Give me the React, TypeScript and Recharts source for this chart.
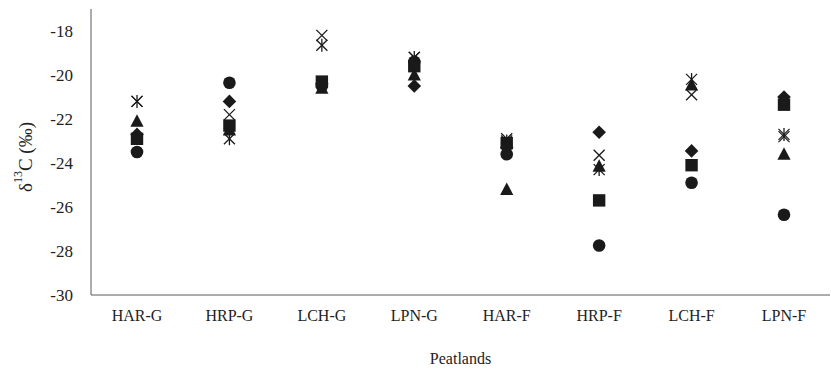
import React from "react";
import { ComposedChart, Scatter, XAxis, YAxis } from "recharts";

const categories = ["HAR-G", "HRP-G", "LCH-G", "LPN-G", "HAR-F", "HRP-F", "LCH-F", "LPN-F"];
const circleVals = [-23.5, -20.35, -20.5, -19.4, -23.6, -27.75, -24.9, -26.35];
const diamondVals = [-22.7, -21.2, -20.4, -20.5, -23.3, -22.6, -23.45, -21.0];
const squareVals = [-22.9, -22.3, -20.3, -19.6, -23.1, -25.7, -24.1, -21.35];
const triangleVals = [-22.1, -22.5, -20.6, -20.0, -25.2, -24.15, -20.45, -23.6];
const xVals = [-21.2, -21.8, -18.2, -19.2, -22.9, -23.65, -20.9, -22.8];
const starVals = [-21.2, -22.9, -18.65, -19.2, -23.0, -24.3, -20.2, -22.7];
const yTicks = [-30, -28, -26, -24, -22, -20, -18];

const data = categories.map((name, i) => ({
  name,
  diamond: diamondVals[i],
  square: squareVals[i],
  triangle: triangleVals[i],
  x: xVals[i],
  star: starVals[i],
  circle: circleVals[i],
}));

const INK = "#1a1a1a";
const FONT = "'Liberation Serif', 'Times New Roman', serif";

const makeShape = (kind: string) => (props: any) => {
  const { cx, cy } = props;
  if (cx == null || cy == null) return <g />;
  switch (kind) {
    case "circle":
      return <circle cx={cx} cy={cy} r={6.3} fill={INK} />;
    case "square":
      return <rect x={cx - 6.2} y={cy - 6.2} width={12.4} height={12.4} fill={INK} />;
    case "diamond":
      return (
        <polygon
          points={`${cx},${cy - 6.8} ${cx + 6.8},${cy} ${cx},${cy + 6.8} ${cx - 6.8},${cy}`}
          fill={INK}
        />
      );
    case "triangle":
      return (
        <polygon
          points={`${cx},${cy - 7} ${cx + 6.6},${cy + 5.5} ${cx - 6.6},${cy + 5.5}`}
          fill={INK}
        />
      );
    case "x":
      return (
        <g stroke={INK} strokeWidth={1.3}>
          <line x1={cx - 5.5} y1={cy - 5.5} x2={cx + 5.5} y2={cy + 5.5} />
          <line x1={cx - 5.5} y1={cy + 5.5} x2={cx + 5.5} y2={cy - 5.5} />
        </g>
      );
    case "star":
    default:
      return (
        <g stroke={INK} strokeWidth={1.3}>
          <line x1={cx - 5.5} y1={cy - 5.5} x2={cx + 5.5} y2={cy + 5.5} />
          <line x1={cx - 5.5} y1={cy + 5.5} x2={cx + 5.5} y2={cy - 5.5} />
          <line x1={cx} y1={cy - 6.5} x2={cx} y2={cy + 6.5} />
        </g>
      );
  }
};

const XTick = (props: any) => {
  const { x, y, payload } = props;
  return (
    <text x={x} y={y} dy={16} textAnchor="middle" fontFamily={FONT} fontSize={16} fill="#222">
      {payload.value}
    </text>
  );
};

const YTick = (props: any) => {
  const { x, y, payload } = props;
  return (
    <text x={x} y={y} dy={6} textAnchor="end" fontFamily={FONT} fontSize={17} fill="#222">
      {payload.value}
    </text>
  );
};

const YLabel = (props: any) => {
  const vb = props.viewBox || { x: 0, y: 9, width: 91, height: 286 };
  const cx = 25;
  const cy = vb.y + vb.height / 2 + 5;
  return (
    <text
      transform={`translate(${cx},${cy}) rotate(-90)`}
      textAnchor="middle"
      dominantBaseline="central"
      fontFamily={FONT}
      fontSize={19}
      fill="#222"
    >
      <tspan>δ</tspan>
      <tspan dy={-7} fontSize={12}>13</tspan>
      <tspan dy={7}>C (‰)</tspan>
    </text>
  );
};

const XLabel = (props: any) => {
  const vb = props.viewBox || { x: 91, y: 295, width: 739, height: 75 };
  return (
    <text
      x={vb.x + vb.width / 2}
      y={358}
      textAnchor="middle"
      dominantBaseline="central"
      fontFamily={FONT}
      fontSize={16}
      fill="#222"
    >
      Peatlands
    </text>
  );
};

const series = ["diamond", "square", "triangle", "x", "star", "circle"];

export default function App() {
  return (
    <div style={{ position: "absolute", left: 0, top: 0, width: 831, height: 370, background: "#fff" }}>
      <ComposedChart
        width={831}
        height={370}
        data={data}
        margin={{ top: 9, right: 1, left: 0, bottom: 0 }}
      >
        <XAxis
          dataKey="name"
          type="category"
          height={75}
          padding={{ left: 46, right: 46 }}
          tickLine={false}
          tickSize={0}
          tickMargin={10}
          axisLine={{ stroke: "#595959", strokeWidth: 1 }}
          tick={<XTick />}
          interval={0}
          label={<XLabel />}
        />
        <YAxis
          type="number"
          domain={[-30, -17]}
          ticks={yTicks}
          width={91}
          tickLine={false}
          tickSize={0}
          tickMargin={18}
          axisLine={{ stroke: "#595959", strokeWidth: 1 }}
          tick={<YTick />}
          allowDataOverflow
          label={<YLabel />}
        />
        {series.map((s) => (
          <Scatter
            key={s}
            dataKey={s}
            fill={INK}
            shape={makeShape(s)}
            isAnimationActive={false}
          />
        ))}
      </ComposedChart>
    </div>
  );
}
